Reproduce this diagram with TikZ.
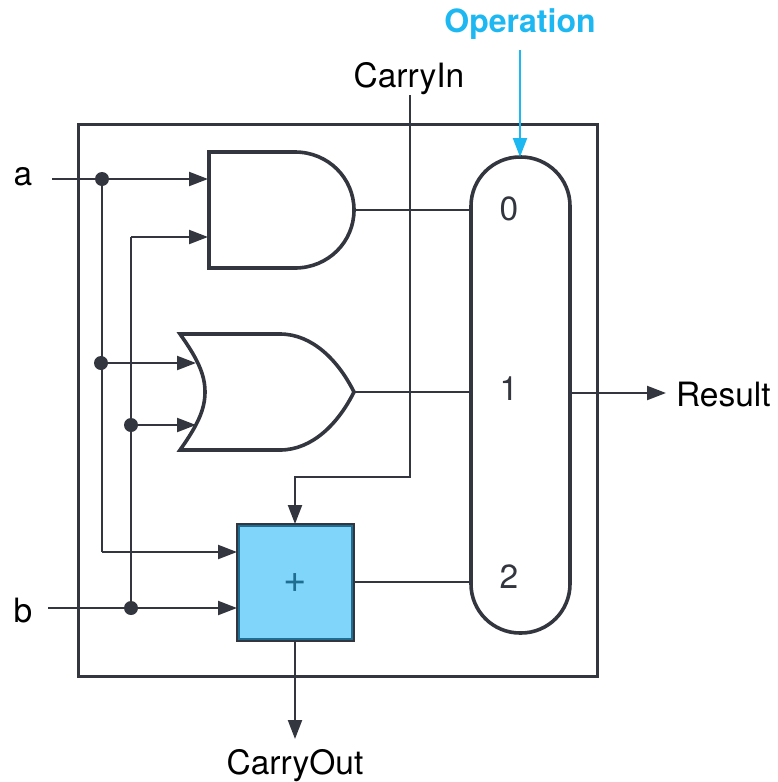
\documentclass[tikz,border=0pt]{standalone}
\usepackage{fontspec}
\setmainfont{TeX Gyre Heros}
\usetikzlibrary{arrows.meta}
\definecolor{ink}{HTML}{33363F}
\definecolor{opblue}{HTML}{1DB7F2}
\definecolor{addfill}{HTML}{7FD6FA}
\definecolor{addedge}{HTML}{1F6E92}
\tikzset{
  x=1pt,y=-1pt,
  every node/.style={outer sep=0pt},
  gate/.style={draw=ink,line width=3.6pt,line join=miter},
  wire/.style={draw=ink,line width=2.2pt},
  sig/.style={wire,-{Triangle[length=19pt,width=14pt,fill=ink]}},
  opsig/.style={draw=opblue,line width=2.2pt,-{Triangle[length=19pt,width=14pt,fill=opblue]}},
  dot/.style={circle,fill=ink,inner sep=0pt,minimum size=14pt},
  lab/.style={font=\fontsize{33.5}{36}\selectfont,text=black,inner sep=0pt},
  digit/.style={font=\fontsize{33.5}{36}\selectfont,text=ink,inner sep=0pt},
}
\begin{document}
\begin{tikzpicture}
\useasboundingbox (0,0) rectangle (778,782);
% outer block
\node[gate,line width=3pt,minimum width=519pt,minimum height=552pt,inner sep=0pt,anchor=north west] (block) at (78,124) {};

% ports
\coordinate (ain) at (52,179);
\coordinate (bin) at (48,608);
\coordinate (andA) at (208,179);
\coordinate (andB) at (208,237);
\coordinate (andOut) at (354,210);
\coordinate (orA) at (196,363);
\coordinate (orB) at (196,425);
\coordinate (orOut) at (354,392);
\coordinate (cinTop) at (410,95);
\coordinate (cinBend) at (410,477);
\coordinate (cinLeft) at (295,477);
\coordinate (a2) at (102,552);
\coordinate (b2) at (131,237);
\coordinate (opTop) at (520,50);
\coordinate (resEnd) at (666,393);
\coordinate (coutTop) at (295,641);
\coordinate (coutEnd) at (295,739);

% gates
\draw[gate] (209,152) -- (295,152) .. controls (328,152) and (354,178) .. (354,210)
            .. controls (354,242) and (328,268) .. (295,268) -- (209,268) -- cycle;
\draw[gate] (180,334) -- (280,334) .. controls (312,334) and (338,360) .. (354,392)
            .. controls (338,424) and (312,450) .. (280,450) -- (180,450)
            .. controls (197,426) and (205,410) .. (205,392)
            .. controls (205,374) and (197,358) .. (180,334) -- cycle;
\node[draw=ink,line width=2.6pt,fill=addfill,minimum size=117pt,inner sep=0pt,anchor=north west] (adder) at (237,524) {};
\draw[addedge,line width=1.6pt] ([shift={(2.2,2.2)}]adder.north west) rectangle ([shift={(-2.2,-2.2)}]adder.south east);
\node[text=addedge,font=\fontsize{40}{42}\selectfont,inner sep=0pt] (plus) at (295.5,583) {+};
\node[gate,minimum width=99pt,minimum height=476pt,inner sep=0pt,rounded corners=49pt,anchor=north west] (mux) at (471,157) {};

% wires
\draw[sig] (ain) -- (andA);
\node[dot] (da) at (102,179) {};
\node[dot] (db) at (101,363) {};
\node[dot] (dc) at (131,425) {};
\node[dot] (dd) at (131,608) {};
\draw[wire] (da) -- (a2);
\draw[sig] (a2) -- (adder.west |- a2);
\draw[sig] (db) -- (orA);
\draw[sig] (b2) -- (andB);
\draw[wire] (b2) -- (dd);
\draw[sig] (dc) -- (orB);
\draw[sig] (bin) -- (adder.west |- bin);
\draw[wire] (andOut) -- (mux.west |- andOut);
\draw[wire] (orOut) -- (mux.west |- orOut);
\draw[wire] (adder.east |- 0,582) -- (mux.west |- 0,582);
\draw[sig] (cinTop) -- (cinBend) -- (cinLeft) -- (adder.north -| cinLeft);
\draw[sig] (adder.south -| coutTop) -- (coutEnd);
\draw[sig] (mux.east |- resEnd) -- (resEnd);
\draw[opsig] (opTop) -- (mux.north -| opTop);

% labels
\node[font=\fontsize{32}{36}\selectfont\bfseries,text=opblue,inner sep=0pt] (oplab) at (520,24.5) {Operation};
\node[lab] (cin) at (409,79) {CarryIn};
\node[lab] (alab) at (23,177) {a};
\node[lab] (blab) at (23,611) {b};
\node[lab,anchor=west] (res) at (676,395) {Result};
\node[lab] (cout) at (295,766) {CarryOut};
\node[digit] (d0) at (509,209) {0};
\node[digit] (d1) at (509,389) {1};
\node[digit] (d2) at (509,577) {2};
\end{tikzpicture}
\end{document}
